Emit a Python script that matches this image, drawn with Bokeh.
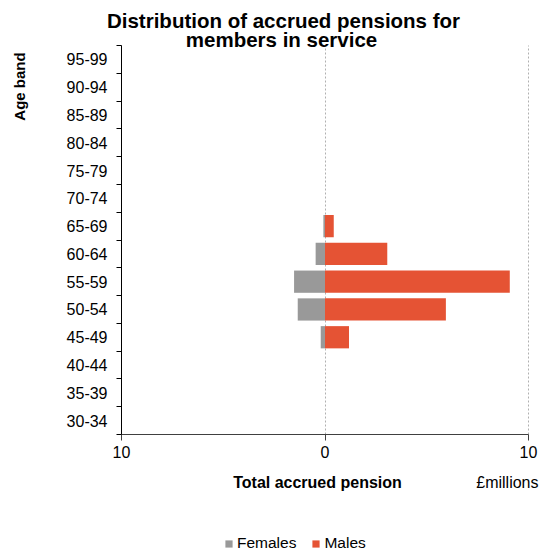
from bokeh.plotting import figure
from bokeh.models import (FixedTicker, Label, Legend, LegendItem, ColumnDataSource,
                          Range1d)
from bokeh.embed import file_html
from bokeh.resources import INLINE

# Accrued pensions for members in service, £ millions, by age band
age_bands = ["30-34", "35-39", "40-44", "45-49", "50-54", "55-59", "60-64",
             "65-69", "70-74", "75-79", "80-84", "85-89", "90-94", "95-99"]
females = [0.0, 0.0, 0.0, 0.21, 1.34, 1.52, 0.46, 0.08, 0.0, 0.0, 0.0, 0.0, 0.0, 0.0]
males = [0.0, 0.0, 0.0, 1.18, 5.94, 9.08, 3.06, 0.43, 0.0, 0.0, 0.0, 0.0, 0.0, 0.0]
x_ticks = [-10, 0, 10]
x_tick_labels = ["10", "0", "10"]

FONT = "Liberation Sans"
GREY = "#999999"
RED = "#E55334"
GRID = "#b0b0b0"

# canvas size and where the axes sit on it (pixels from the top-left)
W, H = 540, 555
AX_LEFT, AX_RIGHT, AX_TOP, AX_BOTTOM = 121, 528, 45, 434
X_MIN, X_MAX = -10, 10
N = len(age_bands)

# the frame fills the whole canvas; the axes are pinned inside it
px_x = (AX_RIGHT - AX_LEFT) / (X_MAX - X_MIN)
px_y = (AX_BOTTOM - AX_TOP) / N
x_range = Range1d(X_MIN - AX_LEFT / px_x, X_MAX + (W - AX_RIGHT) / px_x)
y_range = Range1d(0 - (H - AX_BOTTOM) / px_y, N + AX_TOP / px_y)

pos = [i + 0.5 for i in range(N)]
src = ColumnDataSource(dict(
    y=pos,
    f_left=[-v for v in females],
    m_right=males,
))

p = figure(width=W, height=H, output_backend="svg", toolbar_location=None,
           x_range=x_range, y_range=y_range, min_border=0)
p.outline_line_color = None
p.background_fill_color = "white"
p.border_fill_color = "white"

# dashed vertical grid lines, limited to the band area
p.ygrid.grid_line_color = None
xg = p.xgrid[0]
if "cross_bounds" in xg.properties():
    xg.ticker = FixedTicker(ticks=x_ticks)
    xg.cross_bounds = (0, N)
    xg.grid_line_color = GRID
    xg.grid_line_dash = "2 2"
else:
    xg.grid_line_color = None
    p.segment(x0=x_ticks, y0=[0] * len(x_ticks), x1=x_ticks, y1=[N] * len(x_ticks),
              line_color=GRID, line_dash="2 2", line_width=1)

f_r = p.hbar(y="y", left="f_left", right=0, height=0.8, source=src,
             fill_color=GREY, line_color=None)
m_r = p.hbar(y="y", left=0, right="m_right", height=0.8, source=src,
             fill_color=RED, line_color=None)

# x axis along the bottom of the bands
xa = p.xaxis[0]
xa.fixed_location = 0
xa.bounds = (X_MIN, X_MAX)
xa.ticker = FixedTicker(ticks=x_ticks)
xa.major_label_overrides = {t: l for t, l in zip(x_ticks, x_tick_labels)}
xa.major_label_text_font = FONT
xa.major_label_text_font_size = "16px"
xa.major_label_text_color = "#000000"
xa.major_tick_in = 0
xa.major_tick_out = 6
xa.minor_tick_line_color = None
xa.axis_line_color = "#404040"
xa.major_tick_line_color = "#404040"
xa.major_label_standoff = 5

# y axis: labels centred on each band, tick marks on band boundaries
ya = p.yaxis[0]
ya.fixed_location = X_MIN
ya.bounds = (0, N)
ya.ticker = FixedTicker(ticks=pos, minor_ticks=list(range(N + 1)))
ya.major_label_overrides = {v: b for v, b in zip(pos, age_bands)}
ya.major_label_text_font = FONT
ya.major_label_text_font_size = "16px"
ya.major_label_text_color = "#000000"
ya.major_tick_line_color = None
ya.minor_tick_in = 0
ya.minor_tick_out = 5
ya.minor_tick_line_color = "#000000"
ya.axis_line_color = "#000000"
ya.major_label_standoff = 8


def label(cx, cy, text, **kw):
    """Text placed by canvas pixel (from top-left)."""
    opts = dict(text_font=FONT, text_font_size="16px", text_baseline="alphabetic",
                text_color="#000000")
    opts.update(kw)
    p.add_layout(Label(x=cx, y=H - cy, x_units="screen", y_units="screen",
                       text=text, **opts))


label(283, 20, "Distribution of accrued pensions for", text_align="center",
      text_font_style="bold", text_font_size="20.5px")
label(281, 39, "members in service", text_align="center",
      text_font_style="bold", text_font_size="20.5px")
label(19, 86, "Age band", text_align="center", text_baseline="middle",
      angle=90, angle_units="deg", text_font_style="bold", text_font_size="15px")
label(317, 482, "Total accrued pension", text_align="center", text_font_style="bold")
label(538, 482, "£millions", text_align="right")

legend = Legend(items=[LegendItem(label="Females", renderers=[f_r]),
                       LegendItem(label="Males", renderers=[m_r])],
                orientation="horizontal", location=(224, 3),
                glyph_width=9, glyph_height=9, label_standoff=4, spacing=15,
                padding=0, margin=0, border_line_color=None,
                background_fill_alpha=0, label_text_font=FONT,
                label_text_font_size="15.5px", label_text_color="#000000")
p.add_layout(legend, "center")

open("out.html", "w").write(file_html(p, INLINE))
